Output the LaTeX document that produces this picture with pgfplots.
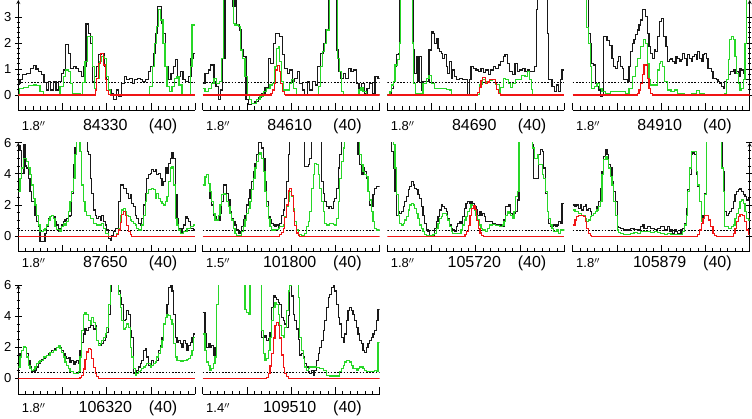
\documentclass[border=0pt]{standalone}
\usepackage{pgfplots}
\pgfplotsset{compat=1.18}
\usepackage{fontspec}
\setmainfont{Liberation Sans}
\definecolor{gline}{RGB}{40,215,40}
\definecolor{rline}{RGB}{240,20,20}
\definecolor{kline}{RGB}{25,25,25}
\pgfplotsset{
 pan/.style={
  scale only axis, width=177pt, anchor=south west,
  axis x line=bottom,
  axis line style={-, line width=0.8pt},
  every inner x axis line/.append style={-},
  every outer x axis line/.append style={-},
  every inner y axis line/.append style={-},
  every outer y axis line/.append style={-},
  tick align=inside, xticklabels={}, minor x tick num=5,
  major tick length=7pt, minor tick length=3.5pt,
  every tick/.style={black, line width=0.7pt},
  /pgf/number format/assume math mode=true,
  yticklabel style={font=\fontsize{13}{13}\selectfont},
 },
 r1/.style={height=110pt, ymin=-0.58, ymax=3.65, ytick={0,1,2,3}, minor y tick num=4},
 r23/.style={height=109pt, ymin=-1, ymax=6, ytick={0,2,4,6}, minor y tick num=3},
 lefty/.style={axis y line=left},
 righty/.style={axis y line=right, yticklabels={}},
 noy/.style={axis y line=none},
 c1/.style={xmin=55, xmax=585, xtick={55,187.5,320,452.5,585}},
 c2/.style={xmin=38, xmax=570, xtick={38,171,304,437,570}},
 c3/.style={xmin=22, xmax=557, xtick={22,155.75,289.5,423.25,557}},
 c4/.style={xmin=8, xmax=534, xtick={8,139.5,271,402.5,534}},
 blk/.style={const plot, kline, line width=1.2pt},
 grn/.style={const plot, gline, line width=1.2pt},
 red/.style={const plot, rline, line width=1.2pt},
 dot/.style={black, line width=0.8pt, dash pattern=on 1.6pt off 1.6pt},
}
\newcommand{\lab}[5]{%
 \node[anchor=base west, font=\fontsize{13}{13}\selectfont] at (#1pt,#2pt) {#3$''$};
 \node[anchor=base, font=\fontsize{16}{16}\selectfont] at (#1pt+87pt,#2pt) {#4};
 \node[anchor=base west, font=\fontsize{16}{16}\selectfont] at (#1pt+127pt,#2pt) {#5};}
\begin{document}
\begin{tikzpicture}
\useasboundingbox (0,0) rectangle (752pt,418pt);
% ---------------- Row 1 ----------------
\begin{axis}[pan, r1, c1, lefty, at={(18.3pt,308pt)}]
\addplot[dot] coordinates {(55,0.5)(585,0.5)};
\addplot[blk] coordinates {(55,0.45)(60,0.58)(68,0.77)(80,0.83)(92,1.03)(100,1.13)(108,1.0)(116,0.9)(124,0.77)(132,0.47)(140,0.19)(146,0.51)(152,0.19)(160,0.51)(168,0.19)(176,0.51)(184,0.83)(190,0.96)(197,1.95)(205,1.6)(212,1.03)(220,1.09)(228,1.03)(236,0.9)(244,0.71)(252,1.09)(258,2.73)(266,2.37)(272,1.99)(278,0.51)(284,0.71)(290,1.09)(296,1.54)(304,1.6)(312,1.09)(318,0.58)(326,0.19)(334,0.06)(340,-0.19)(348,0.19)(356,-0.06)(364,0.45)(372,0.71)(380,0.58)(388,0.64)(396,0.45)(404,0.58)(412,0.64)(420,0.58)(428,0.51)(436,0.58)(444,0.90)(452,1.09)(460,1.6)(466,2.37)(472,3.40)(484,2.76)(490,2.37)(496,1.09)(504,0.58)(512,0.83)(520,1.09)(526,1.35)(532,0.71)(540,0.90)(548,0.58)(556,0.51)(564,0.71)(572,1.41)(578,1.6)(585,1.6)};
\addplot[grn] coordinates {(55,0)(58,0.26)(70,0.29)(85,0.35)(100,0.38)(110,0.35)(120,0.13)(130,0.03)(180,0.32)(190,0.71)(197,0.96)(205,0.90)(212,0.45)(218,0.06)(240,0.03)(248,0.47)(255,1.28)(262,2.24)(270,2.24)(276,1.09)(282,0.26)(290,0.64)(298,1.28)(305,1.47)(312,1.41)(318,0.71)(325,0.19)(332,0.03)(440,0.03)(448,0.32)(456,1.09)(462,1.99)(468,2.63)(474,3.27)(482,2.88)(488,1.99)(494,1.09)(500,0.32)(508,0.13)(515,0.32)(522,0.64)(530,0.71)(536,0.38)(545,0.03)(565,0.03)(570,1.09)(575,2.69)(585,2.69)};
\addplot[red] coordinates {(55,0)(282,0)(285,0.19)(290,0.64)(295,1.22)(300,1.6)(305,1.6)(310,1.15)(315,0.58)(320,0.17)(325,0.03)(330,0)(585,0)};
\end{axis}
\begin{axis}[pan, r1, c2, noy, at={(202.7pt,308pt)}]
\addplot[dot] coordinates {(38,0.5)(570,0.5)};
\addplot[blk] coordinates {(38,0.45)(45,0.81)(55,0.96)(62,1.15)(72,0.51)(78,0.32)(85,-0.19)(92,0.19)(98,1.41)(105,3.8)(128,3.4)(135,3.8)(140,2.69)(148,2.5)(155,1.73)(160,1.47)(168,-0.19)(175,-0.38)(185,-0.32)(195,-0.26)(205,-0.1)(215,0.05)(225,0.3)(235,1.41)(242,1.22)(250,1.99)(258,2.37)(270,2.24)(278,1.54)(285,1.03)(292,0.83)(300,0.96)(308,0.51)(315,0.64)(322,0.9)(330,0.45)(338,0.19)(345,0.03)(352,0.51)(360,0.19)(368,0.51)(376,0.38)(383,1.09)(392,1.6)(400,1.99)(406,2.5)(415,3.8)(440,1.73)(447,0.9)(452,0.64)(460,0.83)(468,0.64)(476,1.03)(484,0.90)(492,0.96)(500,0.45)(508,0.19)(516,0.45)(524,0.06)(532,0.26)(540,0.45)(548,0.06)(556,0.71)(565,0.64)(570,0.64)};
\addplot[grn] coordinates {(38,0.26)(45,0.13)(55,0.26)(65,0.45)(72,0.64)(80,0.45)(88,0.51)(95,1.41)(100,3.8)(130,2.76)(135,2.69)(145,2.63)(152,1.73)(158,1.41)(165,0.71)(172,0)(178,-0.19)(185,-0.32)(200,-0.19)(210,-0.06)(220,0.13)(230,0.26)(240,0.38)(248,0.45)(255,1.09)(260,1.8)(265,1.86)(270,1.28)(276,0.51)(282,0.19)(290,0.19)(298,0.45)(305,0.58)(312,0.26)(320,0.03)(380,0.03)(386,0.32)(392,1.09)(398,1.67)(405,1.99)(410,2.5)(418,3.8)(443,1.41)(450,0.9)(455,0.13)(462,0.03)(500,0.03)(508,0.19)(514,0.29)(520,0.13)(530,0.03)(570,0.03)};
\addplot[red] coordinates {(38,0)(238,0)(243,0.06)(248,0.19)(253,0.45)(258,0.96)(263,1.13)(268,0.9)(273,0.45)(278,0.13)(283,0.03)(288,0)(570,0)};
\end{axis}
\begin{axis}[pan, r1, c3, noy, at={(387.3pt,308pt)}]
\addplot[dot] coordinates {(22,0.5)(557,0.5)};
\addplot[blk] coordinates {(22,0)(30,0)(35,0.26)(40,0.51)(45,1.09)(50,1.54)(55,1.6)(60,3.8)(100,1.73)(105,0.83)(110,1.47)(115,0.51)(120,1.47)(125,0.19)(130,0.51)(140,0.51)(148,1.73)(155,2.44)(160,2.37)(165,1.99)(170,2.18)(175,1.79)(180,1.67)(185,1.6)(190,1.41)(195,1.54)(200,1.09)(205,0.83)(210,1.28)(215,0.64)(220,0.96)(225,0.71)(232,0.58)(240,0.64)(250,0.58)(258,0.6)(265,0.03)(270,0.58)(275,1.09)(282,1.03)(290,0.96)(298,0.90)(305,1.03)(312,0.86)(320,0.96)(328,0.77)(335,0.96)(342,1.09)(350,1.03)(358,1.15)(365,1.28)(372,1.47)(378,1.54)(385,1.22)(392,0.90)(400,0.77)(408,1.22)(415,0.90)(422,0.96)(430,1.03)(438,0.90)(445,0.96)(452,0.90)(460,0.90)(468,1.09)(472,3.3)(476,3.8)(500,3.8)(505,2.37)(510,0.58)(520,0.32)(527,0.13)(533,0.38)(540,0.13)(545,0.58)(550,0.96)(557,0.96)};
\addplot[grn] coordinates {(22,0)(30,0.13)(35,0.38)(40,0.51)(45,1.15)(52,1.35)(58,2.0)(62,3.8)(95,3.8)(98,2.0)(102,0.45)(108,0.06)(125,0.06)(130,0.45)(140,0.64)(148,0.75)(155,0.45)(165,0.26)(180,0.26)(190,0.26)(200,0.22)(210,0.19)(215,0.03)(290,0.03)(300,0.4)(310,0.6)(320,0.5)(330,0.55)(340,0.6)(350,0.4)(360,0.05)(365,0.3)(372,0.64)(380,0.6)(388,0.45)(395,0.3)(400,0.45)(410,0.58)(418,0.6)(428,0.75)(438,0.7)(445,0.9)(452,0.6)(458,0.2)(462,0.03)(557,0.03)};
\addplot[red] coordinates {(22,0)(290,0)(295,0.1)(300,0.3)(305,0.55)(310,0.68)(318,0.45)(325,0.5)(332,0.6)(340,0.6)(348,0.45)(352,0.2)(358,0.06)(365,0)(557,0)};
\end{axis}
\begin{axis}[pan, r1, c4, righty, at={(572.7pt,308pt)}]
\addplot[dot] coordinates {(8,0.5)(534,0.5)};
\addplot[blk] coordinates {(8,3.8)(48,3.8)(55,2.37)(60,1.99)(65,1.22)(70,1.15)(75,0.45)(80,0.32)(85,0.19)(90,-0.06)(95,0.0)(100,2.24)(110,2.1)(118,1.9)(125,1.41)(130,1.09)(135,1.03)(140,1.28)(145,1.47)(150,1.09)(155,1.03)(160,0.58)(170,0.51)(175,1.09)(180,1.67)(185,1.99)(190,2.12)(195,2.31)(200,2.5)(205,2.69)(210,2.88)(215,3.27)(225,3.01)(230,2.37)(235,1.86)(240,1.6)(245,1.41)(250,1.73)(255,1.67)(260,2.24)(265,2.82)(272,2.95)(278,2.24)(285,1.86)(290,1.28)(295,1.35)(300,1.41)(305,1.28)(310,1.22)(315,1.47)(320,1.41)(325,1.28)(330,1.35)(335,1.6)(340,1.41)(345,1.15)(350,1.54)(355,1.41)(360,1.28)(365,1.47)(370,1.54)(375,1.35)(380,1.67)(385,1.41)(390,1.28)(395,1.54)(400,1.6)(405,1.41)(410,1.03)(415,1.03)(420,0.9)(425,0.64)(430,0.64)(435,0.58)(440,0.51)(445,0.45)(450,0.32)(455,0.26)(460,0.51)(465,0.58)(470,0.77)(478,0.90)(485,0.96)(490,0.83)(495,0.90)(500,0.71)(505,1.03)(510,0.96)(515,0.83)(520,0.58)(534,0.58)};
\addplot[grn] coordinates {(8,3.8)(45,3.8)(50,2.6)(55,1.99)(60,1.09)(65,0.26)(72,0.32)(80,0.45)(88,0.26)(95,0.13)(105,0.06)(120,0.13)(150,0.13)(165,0.06)(175,0.26)(185,0.71)(195,1.09)(200,1.41)(210,1.86)(218,2.14)(225,1.99)(230,1.22)(235,0.58)(240,0.38)(250,0.38)(260,0.96)(265,1.22)(270,1.28)(275,1.09)(280,0.51)(290,0.19)(300,0.13)(310,0.19)(320,0.06)(340,0.03)(360,0.06)(375,0.17)(385,0.06)(400,0.03)(460,0.06)(465,0.58)(470,1.35)(475,2.12)(480,2.24)(485,2.12)(490,1.47)(495,0.83)(500,0.45)(505,0.19)(510,0.26)(515,0.58)(520,1.99)(524,3.8)(534,3.8)};
\addplot[red] coordinates {(8,0)(195,0)(200,0.06)(205,0.19)(210,0.45)(215,0.77)(220,1.15)(225,1.15)(230,0.64)(235,0.26)(240,0.06)(245,0)(534,0)};
\end{axis}
% ---------------- Row 2 ----------------
\begin{axis}[pan, r23, c1, lefty, at={(18.3pt,166.3pt)}]
\addplot[dot] coordinates {(55,0.4)(585,0.4)};
\addplot[blk] coordinates {(55,5.8)(60,5.5)(65,4.0)(72,5.9)(77,4.5)(80,4.37)(85,3.72)(90,2.86)(95,2.22)(100,2.22)(105,1.35)(110,0.92)(115,0.6)(120,-0.37)(130,-0.37)(135,0.17)(140,0.6)(145,1.14)(150,1.25)(155,1.35)(160,1.25)(165,0.92)(170,0.71)(175,0.28)(180,0.49)(185,0.71)(190,0.92)(195,1.03)(200,1.14)(205,1.25)(210,1.35)(215,2.75)(220,4.58)(225,5.66)(230,6.2)(260,6.2)(262,5.44)(265,5.23)(270,3.72)(275,2.75)(280,1.68)(285,1.35)(290,1.14)(295,1.25)(300,1.03)(305,1.35)(310,0.92)(315,0.71)(320,0.39)(325,-0.15)(330,-0.26)(335,0.06)(340,0.28)(345,0.49)(355,2.22)(360,3.29)(365,3.29)(370,3.08)(375,3.08)(380,2.75)(385,2.43)(390,2.65)(395,2.11)(400,1.9)(405,1.35)(410,1.14)(415,0.81)(420,0.71)(425,1.14)(430,2.0)(435,2.75)(440,3.72)(445,3.94)(450,4.04)(455,4.26)(460,4.15)(465,4.26)(470,3.94)(475,4.04)(480,3.72)(485,3.29)(490,3.51)(495,4.37)(500,4.04)(505,4.69)(510,5.01)(515,5.34)(520,5.01)(525,2.65)(530,1.14)(535,0.49)(540,0.17)(545,0.49)(550,0.71)(555,1.25)(560,1.14)(565,0.92)(570,0.49)(575,0.49)(580,0.39)(585,0.39)};
\addplot[grn] coordinates {(55,2.86)(60,3.72)(65,4.37)(70,5.01)(80,4.80)(85,4.37)(90,3.94)(95,3.29)(100,2.43)(105,2.0)(110,1.35)(115,0.71)(120,0.28)(130,0.39)(135,0.49)(140,0.71)(145,1.03)(150,1.25)(155,1.35)(160,1.14)(165,0.6)(170,0.43)(180,0.28)(185,0.6)(190,0.81)(195,0.71)(200,0.92)(205,1.57)(210,2.22)(215,2.86)(220,3.72)(225,5.23)(230,6.2)(240,5.44)(245,3.29)(250,2.22)(255,1.57)(260,1.35)(270,1.14)(280,0.81)(290,0.71)(305,0.81)(310,0.49)(315,0.17)(325,0.0)(345,0.0)(350,0.17)(355,0.49)(360,1.35)(365,1.68)(370,1.78)(375,1.57)(380,1.35)(385,1.25)(390,1.03)(395,0.92)(400,0.81)(405,0.71)(410,0.49)(415,0.39)(425,0.71)(430,1.35)(435,2.22)(440,2.75)(445,2.97)(455,3.08)(460,2.97)(465,2.43)(470,2.75)(475,2.43)(480,2.22)(485,2.11)(490,2.0)(495,2.22)(500,2.54)(505,3.51)(510,4.37)(515,4.47)(520,3.29)(525,1.14)(530,0.71)(535,0.39)(540,0.17)(550,0.28)(560,0.49)(570,0.6)(580,0.71)(585,0.71)};
\addplot[red] coordinates {(55,0)(345,0)(350,0.1)(355,0.4)(360,0.9)(365,1.4)(370,1.6)(375,1.3)(380,0.7)(385,0.3)(390,0.08)(395,0)(585,0)};
\end{axis}
\begin{axis}[pan, r23, c2, noy, at={(202.7pt,166.3pt)}]
\addplot[dot] coordinates {(38,0.4)(570,0.4)};
\addplot[blk] coordinates {(38,3.29)(45,3.8)(50,3.94)(55,3.4)(60,2.43)(65,2.0)(70,1.35)(75,1.25)(80,1.03)(85,1.03)(90,1.46)(95,2.22)(100,3.29)(105,3.29)(110,2.75)(115,2.32)(120,1.57)(125,1.14)(130,0.92)(135,0.71)(140,0.39)(145,0.17)(150,0.28)(155,0.6)(160,1.03)(165,1.35)(170,2.0)(175,2.43)(180,2.97)(185,3.51)(190,4.15)(195,4.69)(200,5.23)(205,6.0)(210,6.2)(215,5.66)(220,5.01)(225,3.51)(230,2.22)(235,1.25)(240,1.03)(245,0.81)(250,0.71)(255,0.6)(260,0.71)(265,0.49)(270,0.81)(275,1.35)(280,1.68)(285,2.43)(290,3.51)(295,5.23)(300,6.2)(340,6.2)(345,4.47)(355,4.58)(360,5.01)(365,6.2)(390,6.2)(395,3.51)(400,2.75)(405,2.22)(410,1.9)(415,1.78)(420,1.9)(425,1.78)(430,2.22)(435,2.43)(440,3.08)(445,4.37)(450,5.23)(455,6.2)(500,6.2)(505,5.23)(510,4.58)(515,3.94)(520,4.37)(525,4.15)(530,3.72)(535,2.86)(540,2.0)(545,1.9)(550,2.65)(555,3.08)(560,3.19)(570,3.19)};
\addplot[grn] coordinates {(38,3.29)(45,3.8)(50,3.94)(55,3.4)(60,2.86)(65,2.22)(70,1.46)(75,1.03)(80,1.03)(85,1.35)(90,2.0)(95,2.65)(100,2.75)(105,2.65)(110,2.22)(115,1.9)(120,1.46)(125,1.03)(130,0.49)(135,0.17)(140,0.06)(150,0.06)(155,0.28)(160,0.6)(165,1.03)(170,1.46)(175,1.78)(180,2.22)(185,2.97)(190,3.72)(195,4.37)(200,4.8)(205,5.23)(210,5.34)(215,5.01)(220,4.15)(225,2.86)(230,1.9)(235,1.14)(240,0.6)(245,0.39)(255,0.43)(265,0.49)(270,0.6)(280,0.71)(285,1.25)(290,1.9)(295,2.22)(300,2.86)(305,2.54)(310,1.78)(315,0.92)(320,0.39)(325,0.13)(335,0.06)(345,0.17)(350,0.6)(355,0.92)(360,1.57)(365,3.08)(370,3.94)(375,4.69)(380,4.58)(385,3.94)(390,3.08)(395,2.22)(400,1.57)(405,0.81)(410,0.71)(420,0.81)(430,0.75)(435,0.71)(440,1.14)(445,2.22)(450,3.72)(455,4.8)(460,5.66)(465,6.2)(505,6.2)(510,5.23)(515,4.58)(520,4.15)(525,3.94)(530,3.83)(535,2.86)(540,2.32)(545,1.57)(550,0.92)(555,0.49)(560,0.39)(570,0.39)};
\addplot[red] coordinates {(38,0)(265,0)(270,0.1)(275,0.25)(280,0.5)(285,1.2)(290,2.0)(295,2.9)(300,3.08)(305,2.6)(310,1.6)(315,0.7)(320,0.2)(325,0.05)(330,0)(570,0)};
\end{axis}
\begin{axis}[pan, r23, c3, noy, at={(387.3pt,166.3pt)}]
\addplot[dot] coordinates {(22,0.4)(557,0.4)};
\addplot[blk] coordinates {(22,6.2)(35,5.44)(40,4.37)(45,2.86)(50,1.35)(55,1.57)(60,1.46)(65,1.57)(70,1.9)(75,2.22)(80,2.54)(85,2.97)(90,3.19)(95,3.51)(100,3.29)(105,3.08)(110,2.97)(115,2.65)(120,2.43)(125,1.9)(130,1.35)(135,0.81)(140,0.39)(145,0.28)(150,0.06)(155,-0.04)(160,0.06)(165,0.49)(170,0.92)(175,1.25)(180,1.68)(185,2.0)(190,1.9)(195,1.78)(200,1.57)(205,1.14)(210,0.71)(215,0.49)(220,0.39)(225,0.28)(230,0.6)(235,0.81)(240,0.92)(245,0.81)(250,1.25)(255,1.78)(260,2.11)(265,2.22)(270,2.11)(275,2.22)(280,2.11)(285,1.9)(290,1.68)(295,1.35)(300,1.57)(305,1.35)(310,1.46)(315,1.25)(320,0.92)(340,0.81)(350,0.71)(370,0.6)(375,1.03)(380,1.9)(390,2.0)(395,1.46)(400,1.35)(405,1.46)(410,1.57)(415,2.32)(420,6.2)(460,5.87)(465,3.72)(475,3.72)(480,5.23)(485,5.55)(490,5.44)(495,4.37)(500,2.75)(505,1.57)(510,0.81)(515,0.6)(525,0.71)(530,0.6)(535,0.71)(540,0.92)(545,0.81)(550,2.11)(557,2.11)};
\addplot[grn] coordinates {(22,6.2)(40,5.87)(45,4.37)(50,2.65)(55,1.35)(60,0.81)(65,0.71)(70,0.81)(75,1.03)(80,1.25)(85,1.68)(90,2.0)(95,2.11)(100,2.0)(105,1.78)(110,1.46)(115,1.14)(120,0.71)(125,0.49)(130,0.28)(135,0.13)(140,0.06)(160,0.11)(165,0.17)(170,0.49)(175,0.81)(180,1.14)(185,1.25)(190,1.46)(200,1.35)(205,1.03)(210,0.6)(215,0.28)(220,0.17)(240,0.17)(245,0.39)(250,0.71)(255,1.03)(260,1.25)(265,1.57)(270,1.78)(275,2.0)(280,1.96)(285,1.68)(290,1.35)(295,1.03)(300,0.71)(305,0.49)(310,0.39)(320,0.28)(325,0.49)(330,0.71)(340,0.75)(350,0.66)(360,0.6)(370,0.71)(375,0.92)(380,1.35)(385,1.57)(390,1.46)(395,1.35)(400,1.14)(405,1.57)(410,2.54)(415,2.86)(420,6.2)(460,6.2)(462,5.66)(468,5.01)(475,5.23)(480,4.58)(490,3.94)(495,3.72)(500,2.86)(505,1.57)(510,1.14)(515,0.71)(520,0.49)(525,0.28)(535,0.43)(540,0.17)(545,0.39)(557,0.43)};
\addplot[red] coordinates {(22,0)(252,0)(257,0.1)(262,0.3)(267,0.7)(272,1.3)(277,1.8)(282,1.96)(287,1.7)(292,1.0)(297,0.5)(302,0.2)(307,0.05)(312,0)(557,0)};
\end{axis}
\begin{axis}[pan, r23, c4, righty, at={(572.7pt,166.3pt)}]
\addplot[dot] coordinates {(8,0.4)(534,0.4)};
\addplot[blk] coordinates {(8,2.0)(15,1.9)(20,2.0)(25,1.78)(30,2.0)(35,1.68)(40,1.9)(45,2.0)(50,1.68)(55,1.78)(60,1.57)(65,1.35)(70,1.46)(75,1.57)(80,1.9)(85,2.22)(90,3.08)(95,4.15)(100,5.12)(105,5.55)(110,5.23)(115,4.58)(120,4.37)(125,3.51)(130,2.86)(135,2.22)(140,0.6)(145,0.54)(150,0.49)(160,0.39)(170,0.39)(180,0.49)(190,0.45)(200,0.39)(210,0.6)(215,0.71)(220,0.49)(230,0.6)(240,0.49)(250,0.43)(260,0.49)(270,0.6)(280,0.39)(290,0.6)(295,0.28)(300,0.39)(305,0.17)(310,0.39)(315,0.28)(320,0.17)(330,0.39)(335,0.49)(340,0.81)(345,1.78)(350,2.97)(355,3.94)(360,5.23)(365,5.34)(370,5.23)(375,3.94)(380,3.19)(385,2.22)(390,1.14)(395,1.35)(400,2.75)(405,6.2)(450,6.2)(452,4.37)(455,4.15)(460,1.57)(465,1.35)(470,1.46)(475,1.57)(480,1.78)(485,2.22)(490,2.65)(495,2.86)(500,2.97)(505,3.08)(510,2.86)(515,2.65)(520,2.54)(525,2.32)(530,2.43)(534,2.43)};
\addplot[grn] coordinates {(8,1.68)(15,1.57)(25,1.46)(35,1.35)(45,1.14)(50,0.92)(55,1.03)(60,1.25)(65,1.35)(70,1.46)(75,1.57)(80,1.68)(85,1.9)(90,2.22)(95,3.94)(100,4.90)(105,5.12)(110,4.90)(115,4.37)(120,3.83)(125,3.29)(130,2.22)(135,1.35)(140,0.39)(145,0.24)(150,0.17)(160,0.13)(170,0.11)(180,0.17)(190,0.21)(200,0.17)(210,0.28)(220,0.32)(230,0.28)(240,0.24)(250,0.28)(260,0.21)(270,0.15)(280,0.11)(290,0.15)(300,0.11)(320,0.11)(330,0.13)(335,0.28)(340,0.71)(345,1.35)(350,2.86)(355,4.37)(360,5.44)(370,5.44)(375,4.15)(380,3.29)(385,2.22)(390,0.92)(395,1.14)(400,2.65)(405,6.2)(445,6.2)(450,4.37)(455,2.86)(460,0.6)(470,0.49)(480,0.6)(485,0.71)(490,1.14)(495,1.46)(500,1.78)(505,2.22)(510,2.32)(515,2.11)(520,1.57)(525,1.14)(530,1.03)(534,1.03)};
\addplot[red] coordinates {(8,0.71)(15,1.03)(20,1.25)(25,1.35)(35,1.35)(40,1.25)(45,0.92)(50,0.49)(55,0.17)(60,0.02)(65,0)(375,0)(380,0.11)(385,0.39)(390,0.81)(395,1.14)(400,1.35)(408,1.35)(412,1.03)(418,0.6)(425,0.17)(430,0.02)(435,0)(480,0)(485,0.17)(490,0.49)(495,0.92)(500,1.25)(505,1.4)(512,1.35)(518,0.92)(525,0.39)(530,0.13)(534,0.13)};
\end{axis}
% ---------------- Row 3 ----------------
\begin{axis}[pan, r23, c1, lefty, at={(18.3pt,24pt)}]
\addplot[dot] coordinates {(55,0.4)(585,0.4)};
\addplot[blk] coordinates {(55,1.17)(60,1.59)(65,1.8)(70,2.05)(75,2.01)(80,1.59)(85,1.17)(90,0.74)(95,0.42)(105,0.53)(110,0.74)(115,0.95)(120,1.12)(125,1.21)(130,1.27)(135,1.33)(140,1.48)(145,1.59)(150,1.69)(155,1.8)(165,1.91)(170,2.01)(175,2.12)(180,2.01)(185,1.80)(190,1.59)(195,1.38)(200,1.27)(205,1.33)(210,1.06)(215,1.17)(220,0.91)(225,1.06)(230,1.17)(235,0.95)(240,1.80)(245,2.33)(250,2.86)(255,3.18)(260,3.07)(265,3.28)(270,3.50)(275,3.39)(280,3.18)(285,3.39)(290,2.44)(295,2.22)(300,2.12)(305,2.22)(310,2.44)(315,2.65)(320,2.97)(325,4.13)(330,5.61)(335,6.2)(350,6.2)(355,5.61)(360,5.19)(365,4.77)(370,3.71)(375,3.81)(380,4.34)(385,4.13)(390,3.07)(395,2.65)(400,0.32)(405,0.21)(410,0.53)(415,0.74)(420,0.95)(425,1.17)(430,1.80)(435,1.91)(440,1.38)(445,0.85)(450,0.74)(455,1.17)(460,0.95)(465,1.06)(470,1.17)(475,1.80)(480,2.12)(485,2.65)(490,3.50)(495,3.92)(500,4.77)(505,5.83)(510,6.0)(515,5.61)(520,4.13)(525,2.65)(530,2.33)(535,2.44)(540,2.22)(545,2.01)(550,2.44)(555,2.22)(560,1.80)(565,2.12)(570,2.33)(575,2.65)(580,2.86)(585,2.86)};
\addplot[grn] coordinates {(55,0.74)(60,1.38)(65,1.80)(70,2.05)(75,2.01)(80,1.38)(85,0.85)(90,0.64)(95,0.53)(100,0.57)(105,0.74)(110,0.95)(115,1.06)(120,1.17)(130,1.38)(140,1.48)(150,1.69)(160,1.80)(170,2.01)(175,2.12)(180,1.91)(185,1.69)(190,1.38)(195,1.06)(200,0.85)(205,0.64)(210,0.47)(220,0.32)(235,0.42)(240,1.38)(245,3.07)(250,4.13)(255,4.24)(260,4.13)(265,3.71)(270,3.50)(275,3.92)(280,3.60)(285,3.28)(290,2.44)(295,2.12)(300,2.22)(305,2.44)(310,2.65)(315,2.86)(320,3.28)(325,4.77)(330,6.2)(350,6.2)(355,5.40)(360,4.56)(365,3.71)(370,3.18)(375,3.28)(380,3.50)(385,3.28)(390,2.01)(395,1.38)(400,0.64)(405,0.21)(410,0.32)(415,0.42)(420,0.53)(425,0.64)(430,0.74)(435,0.85)(440,0.95)(450,0.74)(455,0.85)(460,0.95)(465,1.06)(470,1.38)(475,1.59)(480,2.01)(485,2.44)(490,3.50)(495,3.92)(500,4.13)(505,4.03)(510,3.81)(515,3.50)(520,2.22)(525,1.38)(530,1.17)(540,1.12)(550,1.17)(560,1.21)(565,1.27)(570,1.48)(575,1.80)(580,2.65)(585,2.65)};
\addplot[red] coordinates {(55,0)(235,0)(240,0.05)(245,0.2)(250,0.6)(255,1.2)(260,1.7)(265,1.9)(270,1.85)(275,1.3)(280,0.7)(285,0.3)(290,0.1)(295,0.02)(300,0)(585,0)};
\end{axis}
\begin{axis}[pan, r23, c2, noy, at={(202.7pt,24pt)}]
\addplot[dot] coordinates {(38,0.4)(570,0.4)};
\addplot[blk] coordinates {(38,4.24)(45,2.86)(50,2.01)(55,2.22)(60,2.01)(65,2.12)(70,1.48)(75,2.01)(80,4.77)(85,6.2)(210,6.2)(215,2.65)(225,2.75)(230,2.44)(235,2.54)(240,2.97)(245,4.56)(250,5.30)(255,5.19)(260,5.09)(265,4.87)(270,4.77)(275,3.92)(280,3.71)(285,3.50)(290,3.28)(295,4.03)(300,6.2)(305,5.30)(310,4.13)(315,3.71)(320,3.18)(325,2.5)(330,1.5)(335,1.59)(340,1.38)(345,0.95)(350,0.74)(355,0.42)(360,0.32)(365,0.53)(370,0.21)(375,0.53)(380,1.17)(385,1.59)(390,2.01)(395,2.44)(400,3.07)(405,3.71)(410,4.56)(415,5.19)(420,5.40)(425,5.83)(430,6.1)(435,5.61)(440,4.77)(445,3.92)(450,3.50)(455,2.65)(460,2.33)(465,2.86)(470,3.71)(475,4.34)(480,4.56)(485,4.34)(490,4.13)(495,3.71)(500,3.28)(505,2.86)(510,2.44)(515,2.22)(520,1.80)(525,1.69)(530,2.01)(535,2.22)(540,2.44)(545,2.65)(550,2.86)(555,3.07)(560,3.71)(565,4.45)(570,4.45)};
\addplot[grn] coordinates {(38,2.86)(45,1.80)(50,1.06)(55,0.85)(60,0.53)(65,0.64)(70,0.95)(75,1.38)(80,4.77)(85,6.2)(160,6.2)(165,4.45)(170,4.24)(175,4.13)(180,6.2)(215,3.07)(220,1.59)(225,1.17)(230,1.27)(235,1.80)(240,2.65)(245,3.71)(250,4.56)(255,4.87)(260,4.77)(265,4.13)(270,3.39)(275,2.75)(280,2.65)(285,3.28)(290,4.34)(295,5.61)(300,6.0)(305,6.2)(320,6.2)(325,5.19)(330,2.65)(335,1.80)(340,1.27)(345,0.74)(350,0.53)(355,0.64)(360,0.74)(380,0.70)(390,0.64)(400,0.53)(410,0.21)(420,0.15)(440,0.15)(450,0.42)(455,0.64)(460,0.85)(465,1.06)(470,1.17)(480,1.06)(485,0.85)(490,0.64)(500,0.53)(505,0.64)(510,0.74)(515,0.74)(520,0.64)(525,0.53)(530,0.47)(540,0.42)(555,0.53)(560,0.42)(565,2.33)(570,2.33)};
\addplot[red] coordinates {(38,0)(225,0)(230,0.05)(235,0.3)(240,0.8)(245,1.6)(250,2.6)(255,3.4)(260,3.6)(265,3.4)(270,2.6)(275,1.5)(280,0.7)(285,0.3)(290,0.1)(295,0)(570,0)};
\end{axis}
% ---------------- labels ----------------
\lab{18.3}{287.3}{1.8}{84330}{(40)}
\lab{202.7}{287.3}{1.8}{84610}{(40)}
\lab{387.3}{287.3}{1.8}{84690}{(40)}
\lab{572.7}{287.3}{1.8}{84910}{(40)}
\lab{18.3}{150.6}{1.8}{87650}{(40)}
\lab{202.7}{150.6}{1.5}{101800}{(40)}
\lab{387.3}{150.6}{1.8}{105720}{(40)}
\lab{572.7}{150.6}{1.8}{105879}{(40)}
\lab{18.3}{5.6}{1.8}{106320}{(40)}
\lab{202.7}{5.6}{1.4}{109510}{(40)}
\end{tikzpicture}
\end{document}
